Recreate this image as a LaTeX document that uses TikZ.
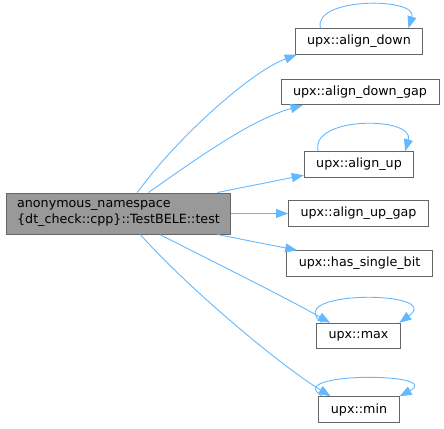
\documentclass[tikz,border=0pt]{standalone}
\usepackage{fontspec}
\setmainfont{DejaVu Sans}
\usetikzlibrary{arrows.meta}
\definecolor{edgeblue}{HTML}{63B8FF}
\definecolor{boxgray}{HTML}{666666}
\definecolor{rootfill}{HTML}{999999}

\begin{document}
\begin{tikzpicture}[x=1pt, y=-1pt, fn/.style={draw=boxgray, fill=white, line width=1pt, font=\fontsize{12.7}{16}\selectfont, inner xsep=12pt, inner ysep=0pt, minimum height=25.5pt}, root/.style={fn, fill=rootfill, align=left, inner xsep=11pt, minimum height=41pt}, call/.style={draw=edgeblue, line width=0.9pt, -{Triangle[length=12pt, width=9pt]}}]
\useasboundingbox (0,0) rectangle (444,428);
\node[root] (test) at (118.5,213.5) {anonymous\_namespace\\\{dt\_check::cpp\}::TestBELE::test};
\node[fn] (down) at (359,41.5) {upx::align\_down};
\node[fn] (downgap) at (360,92) {upx::align\_down\_gap};
\node[fn] (up) at (359,164.5) {upx::align\_up};
\node[fn] (upgap) at (358.5,213.5) {upx::align\_up\_gap};
\node[fn] (single) at (359.5,263.5) {upx::has\_single\_bit};
\node[fn] (max) at (358.5,336) {upx::max};
\node[fn] (min) at (359,409.5) {upx::min};
% calls from the test
\draw[call] (test.48) .. controls (175,140) and (250,72) .. (down.192);
\draw[call] (test.35) .. controls (195,160) and (250,120) .. (downgap.193);
\draw[call] (test.12) -- (up.191);
\draw[call] (test) -- (upgap);
\draw[call] (test.-12) -- (single.168);
\draw[call] (test.-27) .. controls (230,270) and (290,300) .. (max.155);
\draw[call] (test.-44) .. controls (190,290) and (280,365) .. (min.155);
% recursive calls
\draw[call] (down.161) .. controls (312,-3) and (418,-3) .. (down.15);
\draw[call] (up.162) .. controls (309,116) and (415,116) .. (up.16);
\draw[call] (max.160) .. controls (280,290) and (445,290) .. (max.18);
\draw[call] (min.160) .. controls (280,372) and (445,372) .. (min.18);
\end{tikzpicture}
\end{document}
